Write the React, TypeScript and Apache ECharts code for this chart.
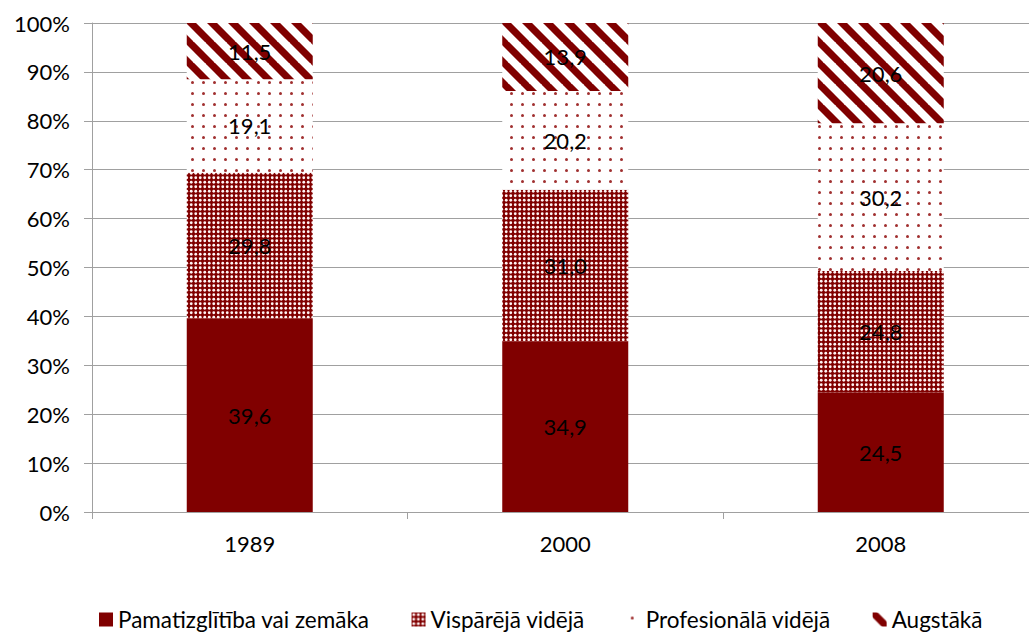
import React, { useEffect, useRef } from "react";
import * as echarts from "echarts";

const years = ["1989", "2000", "2008"];
const seriesNames = [
  "Pamatizglītība vai zemāka",
  "Vispārējā vidējā",
  "Profesionālā vidējā",
  "Augstākā",
];
const pamat = [39.6, 34.9, 24.5];
const visp = [29.8, 31.0, 24.8];
const prof = [19.1, 20.2, 30.2];
const augst = [11.5, 13.9, 20.6];
const yTicks = [0, 10, 20, 30, 40, 50, 60, 70, 80, 90, 100];

const RED = "#800000";
const FONT = "Lato";

function makeCanvas(w: number, h: number, draw: (c: CanvasRenderingContext2D) => void) {
  const cv = document.createElement("canvas");
  cv.width = w;
  cv.height = h;
  const ctx = cv.getContext("2d")!;
  draw(ctx);
  return { image: cv, repeat: "repeat", imageWidth: w, imageHeight: h } as any;
}

function patterns() {
  const visp = makeCanvas(9, 9, (c) => {
    c.fillStyle = RED;
    c.fillRect(0, 0, 9, 9);
    c.fillStyle = "#fff4f4";
    const p = [2.25, 6.75];
    for (const x of p)
      for (const y of p) {
        c.beginPath();
        c.arc(x, y, 1.4, 0, Math.PI * 2);
        c.fill();
      }
  });
  const prof = makeCanvas(11, 11, (c) => {
    c.fillStyle = "#ffffff";
    c.fillRect(0, 0, 11, 11);
    c.fillStyle = "#a03030";
    c.beginPath();
    c.arc(5.5, 5.5, 1.5, 0, Math.PI * 2);
    c.fill();
  });
  const augst = makeCanvas(21, 21, (c) => {
    c.fillStyle = "#ffffff";
    c.fillRect(0, 0, 21, 21);
    c.strokeStyle = RED;
    c.lineWidth = 7.2;
    for (const x0 of [-21, 0, 21]) {
      c.beginPath();
      c.moveTo(x0 - 2, -2);
      c.lineTo(x0 + 23, 23);
      c.stroke();
    }
  });
  return { visp, prof, augst };
}

const fmt = (p: any) => Number(p.value).toFixed(1).replace(".", ",");

export default function App() {
  const ref = useRef<HTMLDivElement>(null);
  useEffect(() => {
    if (!ref.current) return;
    const chart = echarts.init(ref.current, undefined, { renderer: "svg" });
    const pat = patterns();
    const fills = [RED, pat.visp, pat.prof, pat.augst];
    const datas = [pamat, visp, prof, augst];
    const gray = "#a0a0a0";
    chart.setOption({
      animation: false,
      textStyle: { fontFamily: FONT },
      grid: { left: 92, top: 23, right: 6.5, bottom: 120, outerBoundsMode: "none" },
      legend: {
        left: 99,
        top: 608,
        padding: 0,
        itemWidth: 14,
        itemHeight: 14,
        itemGap: 42,
        icon: "rect",
        textStyle: { fontSize: 22.5, color: "#000", fontFamily: FONT },
        data: seriesNames,
      },
      xAxis: {
        type: "category",
        data: years,
        axisLine: { lineStyle: { color: gray } },
        axisTick: { show: true, length: 7, lineStyle: { color: gray } },
        axisLabel: { fontSize: 22, color: "#000", margin: 20, fontFamily: FONT },
      },
      yAxis: {
        type: "value",
        min: yTicks[0],
        max: yTicks[yTicks.length - 1],
        interval: 10,
        axisLine: { show: true, lineStyle: { color: gray } },
        axisTick: { show: true, length: 8, lineStyle: { color: gray } },
        splitLine: { show: true, lineStyle: { color: gray } },
        axisLabel: { fontSize: 22, color: "#000", margin: 22, formatter: "{value}%", fontFamily: FONT },
      },
      series: seriesNames.map((name, i) => ({
        name,
        type: "bar",
        stack: "total",
        barWidth: 126,
        data: datas[i],
        itemStyle: { color: fills[i] },
        emphasis: { disabled: true },
        label: {
          show: true,
          position: "inside",
          color: "#000",
          fontSize: 22,
          fontFamily: FONT,
          formatter: fmt,
        },
      })),
    });
    return () => chart.dispose();
  }, []);
  return (
    <div style={{ position: "fixed", left: 0, top: 0, width: 1029, height: 632, overflow: "hidden", background: "#fff" }}>
      <div ref={ref} style={{ width: 1045, height: 632 }} />
    </div>
  );
}
